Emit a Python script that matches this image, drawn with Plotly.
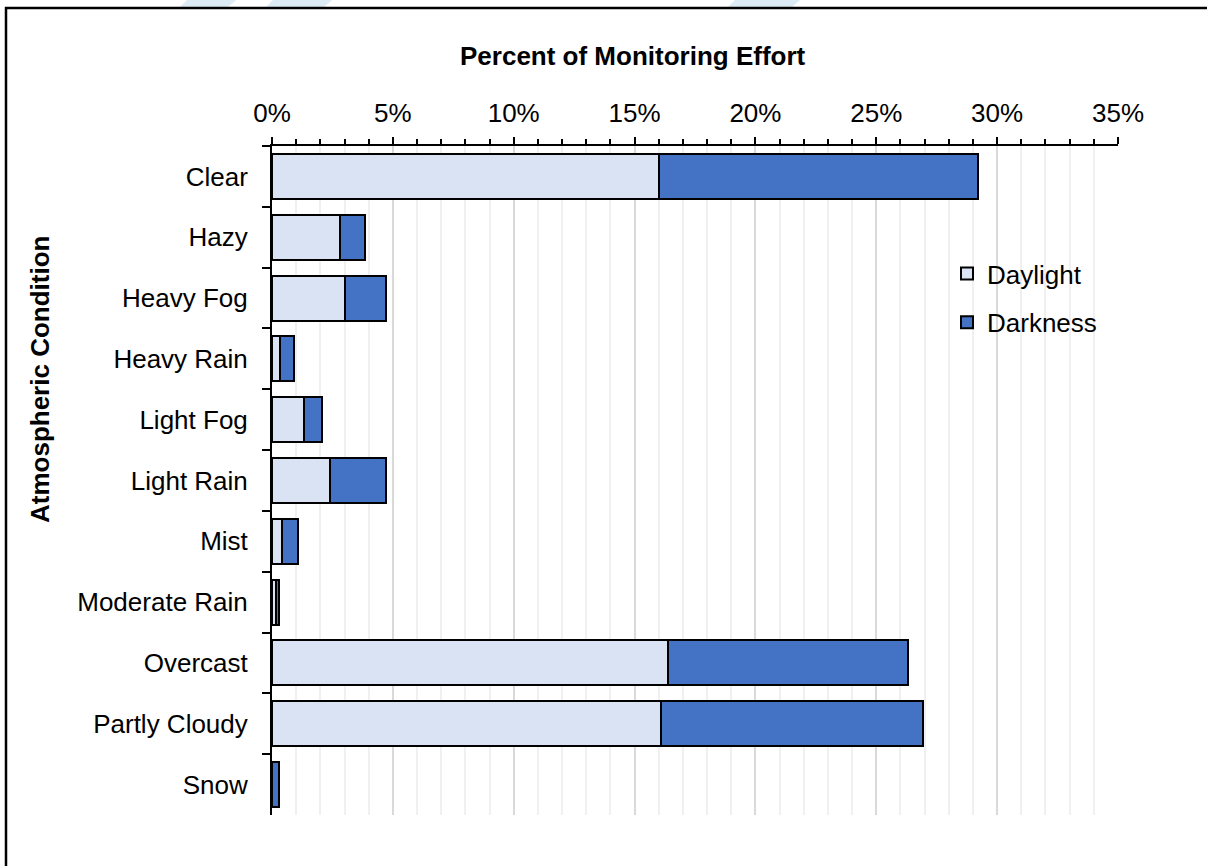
import plotly.graph_objects as go

# ---- data (percent of monitoring effort) ----
categories = ["Clear", "Hazy", "Heavy Fog", "Heavy Rain", "Light Fog", "Light Rain",
              "Mist", "Moderate Rain", "Overcast", "Partly Cloudy", "Snow"]
daylight = [16.0, 2.8, 3.0, 0.34, 1.32, 2.41, 0.43, 0.15, 16.4, 16.1, 0.02]
darkness = [13.2, 1.05, 1.7, 0.56, 0.76, 2.31, 0.63, 0.14, 9.9, 10.85, 0.26]
x_ticks = [0, 5, 10, 15, 20, 25, 30, 35]
x_ticklabels = ["0%", "5%", "10%", "15%", "20%", "25%", "30%", "35%"]

W, H = 1207, 866
L, R, T, B = 272, 1118, 146, 815
PW, PH = R - L, B - T

def px(x):
    return (x - L) / PW

def py(y):
    return (B - y) / PH

FONT = "Liberation Sans, Arial, sans-serif"
FS = 26

fig = go.Figure()
fig.add_trace(go.Bar(
    y=categories, x=daylight, name="Daylight", orientation="h",
    marker=dict(color="#DAE3F3", line=dict(color="#000000", width=2)),
    legendgroup="a"))
fig.add_trace(go.Bar(
    y=categories, x=darkness, name="Darkness", orientation="h",
    marker=dict(color="#4472C4", line=dict(color="#000000", width=2)),
    legendgroup="b"))

# outer chart frame (only its left and top edges fall inside the picture)
shapes = [
    dict(type="line", xref="paper", yref="paper",
         x0=px(6), x1=px(6), y0=py(H + 5), y1=py(7),
         line=dict(color="#000000", width=2.5), layer="above"),
    dict(type="line", xref="paper", yref="paper",
         x0=px(5), x1=px(W + 5), y0=py(8), y1=py(8),
         line=dict(color="#000000", width=2.5), layer="above"),
]
# faint background watermark pieces at the very top edge
for xs in [(187, 236, 228, 180), (273, 332, 324, 266), (735, 800, 792, 728)]:
    a, b, c, d = xs
    shapes.append(dict(type="path", xref="paper", yref="paper",
                       path=f"M {px(a)},{py(0)} L {px(b)},{py(0)} L {px(c)},{py(7)} L {px(d)},{py(7)} Z",
                       fillcolor="#DCEBF4", line=dict(width=0), layer="below"))

fig.update_layout(
    barmode="stack",
    bargap=0.26,
    width=W, height=H, autosize=False,
    margin=dict(l=L, r=W - R, t=T, b=H - B, pad=0),
    paper_bgcolor="white", plot_bgcolor="white",
    font=dict(family=FONT, size=FS, color="#000000"),
    showlegend=True,
    legend=dict(x=px(947), y=py(250), xanchor="left", yanchor="top",
                font=dict(size=FS, color="#000000"), bgcolor="rgba(0,0,0,0)",
                traceorder="grouped", tracegroupgap=12, itemwidth=30),
    shapes=shapes,
    annotations=[
        dict(text="<b>Percent of Monitoring Effort</b>", xref="paper", yref="paper",
             x=px(633), y=py(56), xanchor="center", yanchor="middle", showarrow=False,
             font=dict(size=FS, family=FONT, color="#000000")),
        dict(text="<b>Atmospheric Condition</b>", xref="paper", yref="paper",
             x=px(40), y=py(380), xanchor="center", yanchor="middle", showarrow=False,
             textangle=-90, font=dict(size=FS, family=FONT, color="#000000")),
    ],
)

fig.update_xaxes(
    side="top", range=[0, 35], tickvals=x_ticks, ticktext=x_ticklabels,
    showline=True, linecolor="#000000", linewidth=2, mirror=False,
    ticks="outside", ticklen=7, tickwidth=2, tickcolor="#000000",
    showgrid=True, gridcolor="#D9D9D9", gridwidth=2,
    minor=dict(dtick=1, ticks="outside", ticklen=5, tickwidth=1.5, tickcolor="#000000",
               showgrid=True, gridcolor="#F0F0F0", gridwidth=2),
    zeroline=False, tickfont=dict(size=FS, color="#000000"), fixedrange=True,
    ticklabelstandoff=5,
)
fig.update_yaxes(
    autorange="reversed", categoryorder="array", categoryarray=categories,
    showline=True, linecolor="#000000", linewidth=2,
    ticks="outside", tickson="boundaries", ticklen=8, tickwidth=2, tickcolor="#000000",
    showgrid=False, zeroline=False, tickfont=dict(size=FS, color="#000000"),
    ticklabelstandoff=17,
)

fig.write_html("out.html", config={"displayModeBar": False},
               post_script="document.body.style.margin='0';")
